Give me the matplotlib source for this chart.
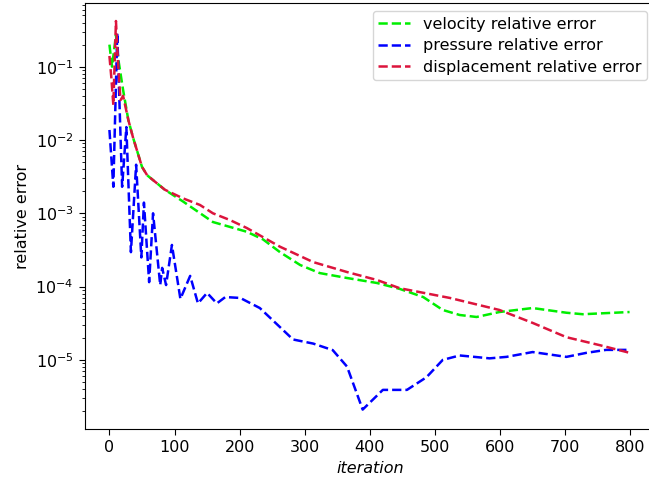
import matplotlib
matplotlib.use('Agg')
import matplotlib.pyplot as plt

# velocity relative error
vel_iter = [0, 4, 10, 14, 21, 29, 36, 50, 58, 85, 113, 159, 211, 236, 262, 293, 323, 365,
            411, 446, 482, 512, 538, 564, 599, 650, 702, 727, 799]
vel_err = [0.2, 0.1, 0.27, 0.12, 0.048, 0.0188, 0.011, 4.3e-3, 3.3e-3, 2.1e-3, 1.45e-3, 7.6e-4,
           5.6e-4, 4.4e-4, 2.95e-4, 1.97e-4, 1.53e-4, 1.31e-4, 1.12e-4, 9.3e-5, 7.2e-5, 4.8e-5,
           4.1e-5, 3.85e-5, 4.5e-5, 5.1e-5, 4.4e-5, 4.2e-5, 4.5e-5]

# pressure relative error
pre_iter = [0, 6, 12, 19.5, 26, 33, 41, 49, 53, 61, 67, 78, 81, 87, 96, 109, 124, 136, 150,
            165, 178, 201, 231, 262, 282, 313, 343, 365, 389, 420, 457, 487, 512, 538, 584,
            610, 650, 702, 733, 763, 799]
pre_err = [0.0137, 2.3e-3, 0.29, 2.3e-3, 0.015, 2.95e-4, 4.6e-3, 2.5e-4, 1.4e-3, 1.15e-4,
           1.0e-3, 1.05e-4, 1.8e-4, 1.05e-4, 3.7e-4, 6.8e-5, 1.4e-4, 5.9e-5, 8.2e-5, 5.9e-5,
           7.2e-5, 7.0e-5, 5.1e-5, 2.8e-5, 1.9e-5, 1.67e-5, 1.36e-5, 8.1e-6, 2.1e-6, 3.9e-6,
           3.9e-6, 5.8e-6, 1.0e-5, 1.15e-5, 1.05e-5, 1.1e-5, 1.28e-5, 1.1e-5, 1.25e-5,
           1.37e-5, 1.37e-5]

# displacement relative error
dis_iter = [0, 3, 6, 10, 13, 17, 21, 29, 36, 50, 58, 85, 113, 139, 159, 185, 211, 262, 313,
            365, 411, 446, 523, 599, 650, 702, 753, 799]
dis_err = [0.14, 0.07, 0.03, 0.42, 0.12, 0.035, 0.04, 0.0188, 0.011, 4.3e-3, 3.3e-3, 2.1e-3,
           1.6e-3, 1.3e-3, 1.0e-3, 8.1e-4, 6.3e-4, 3.5e-4, 2.16e-4, 1.58e-4, 1.23e-4, 9.5e-5,
           7.0e-5, 4.8e-5, 3.2e-5, 2.04e-5, 1.59e-5, 1.25e-5]

plt.rcParams['font.size'] = 11.5

fig = plt.figure(figsize=(6.49, 4.82), dpi=100)
ax = fig.add_axes([0.1305, 0.1093, 0.8787, 0.8839])

ax.plot(vel_iter, vel_err, '--', color='#00ee00', lw=1.8, label='velocity relative error')
ax.plot(pre_iter, pre_err, '--', color='#0000ff', lw=1.8, label='pressure relative error')
ax.plot(dis_iter, dis_err, '--', color='#dc143c', lw=1.8, label='displacement relative error')

ax.set_yscale('log')
ax.set_xlim(-38, 838)
ax.set_ylim(1.13e-6, 0.733)
ax.set_xticks([0, 100, 200, 300, 400, 500, 600, 700, 800])
ax.tick_params(length=4.5)
ax.tick_params(which='minor', length=2.5)
ax.set_xlabel('iteration', style='italic')
ax.set_ylabel('relative error')
ax.legend(loc='upper right', labelspacing=0.4, borderpad=0.35)

fig.savefig('out.png', dpi=100)
